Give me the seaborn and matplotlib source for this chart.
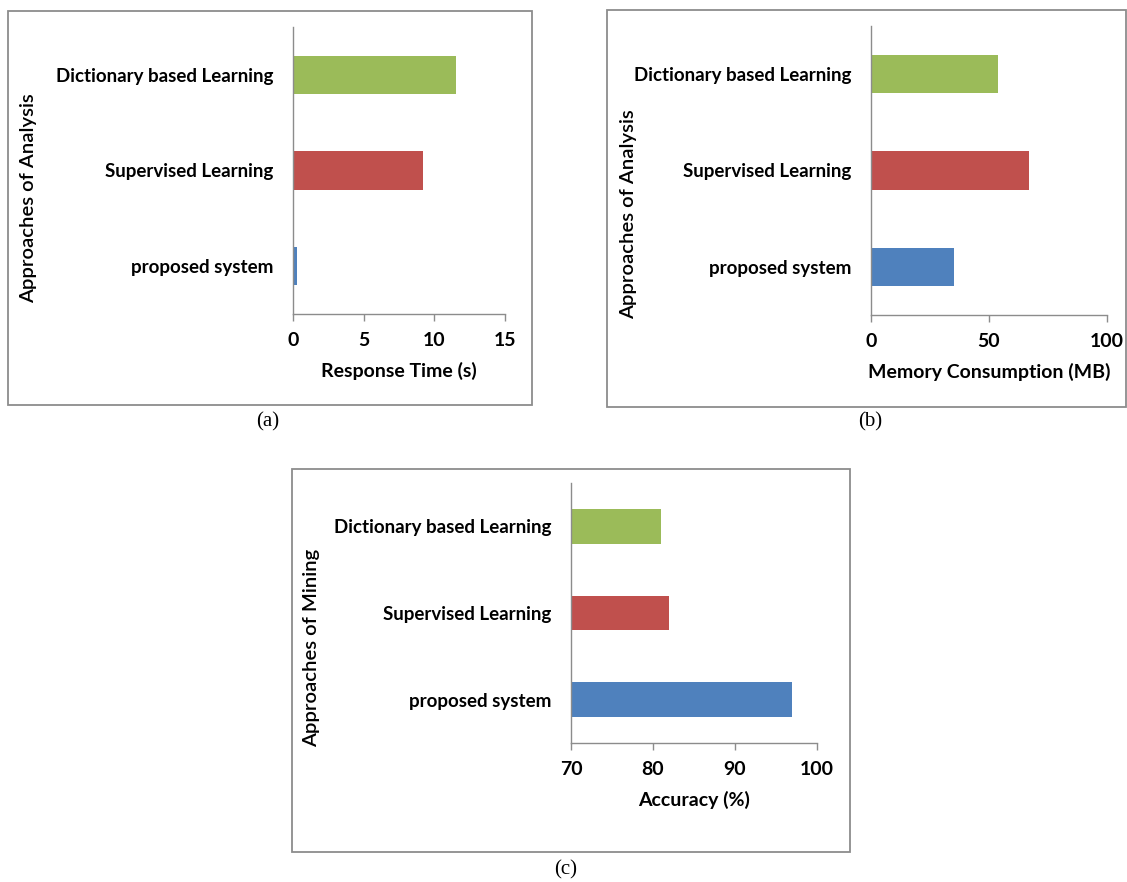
import matplotlib
matplotlib.use("Agg")
import matplotlib.pyplot as plt
import seaborn as sns
import pandas as pd
from matplotlib.patches import Rectangle

# ---- data ----
categories = ["Dictionary based Learning", "Supervised Learning", "proposed system"]
bar_colors = ["#9BBB59", "#C0504D", "#4F81BD"]
response_time = [11.5, 9.2, 0.25]
memory_mb = [54, 67, 35]
accuracy = [81, 82, 97]

sns.set_theme(style="white")
plt.rcParams['font.family'] = ['Lato', 'DejaVu Sans']
plt.rcParams['text.color'] = 'black'
plt.rcParams['axes.labelcolor'] = 'black'
plt.rcParams['xtick.color'] = 'black'
plt.rcParams['ytick.color'] = 'black'

W, H = 1127, 882
fig = plt.figure(figsize=(W / 100, H / 100), dpi=100)
fig.patch.set_facecolor("white")

GRAY = "#8c8c8c"
CAT_FS = 13.5
TICK_FS = 14
XLAB_FS = 14
YLAB_FS = 14.6


def px_axes(left, top, right, bottom):
    return fig.add_axes([left / W, 1 - bottom / H, (right - left) / W, (bottom - top) / H])


def frame(left, top, right, bottom):
    fig.patches.append(Rectangle((left / W, 1 - bottom / H), (right - left) / W, (bottom - top) / H,
                                 transform=fig.transFigure, fill=False, edgecolor=GRAY, linewidth=1.3))


def panel(box, frame_box, values, xlim, xticks, xlabel, ylabel, ylab_px):
    left, top, right, bottom = box
    ax = px_axes(*box)
    df = pd.DataFrame({"cat": categories, "val": values})
    sns.barplot(data=df, y="cat", x="val", hue="cat", order=categories, hue_order=categories,
                palette=bar_colors, saturation=1, width=0.4, orient="h", legend=False, ax=ax,
                edgecolor="none", linewidth=0)
    ax.set_xlim(*xlim)
    ax.set_ylim(2.5, -0.5)
    ax.set_xticks(xticks)
    ax.set_xticklabels([str(t) for t in xticks], fontsize=TICK_FS, fontweight="bold")
    ax.set_yticks(range(len(categories)))
    ax.set_yticklabels(categories, fontsize=CAT_FS, fontweight="bold")
    for s in ["top", "right"]:
        ax.spines[s].set_visible(False)
    for s in ["left", "bottom"]:
        ax.spines[s].set_color(GRAY)
        ax.spines[s].set_linewidth(1.0)
    ax.tick_params(axis="x", direction="out", length=5, width=1.0, color=GRAY, pad=8, bottom=True)
    ax.tick_params(axis="y", length=0, pad=14)
    ax.set_xlabel(xlabel, fontsize=XLAB_FS, fontweight="bold", labelpad=9)
    ax.set_ylabel(ylabel, fontsize=YLAB_FS, fontweight="semibold")
    lx, ly = ylab_px
    ax.yaxis.set_label_coords((lx - left) / (right - left), (bottom - ly) / (bottom - top))
    frame(*frame_box)
    return ax


panel((293, 27, 505, 314), (8, 11, 532, 405), response_time, (0, 15), [0, 5, 10, 15],
      "Response Time (s)", "Approaches of Analysis", (37, 198))
panel((871, 26, 1107, 315), (607, 10, 1126, 407), memory_mb, (0, 100), [0, 50, 100],
      "Memory Consumption (MB)", "Approaches of Analysis", (637, 214))
panel((571, 483, 817, 743), (292, 469, 850, 852), accuracy, (70, 100), [70, 80, 90, 100],
      "Accuracy (%)", "Approaches of Mining", (320, 648))

for txt, x, y in [("(a)", 268, 422), ("(b)", 870, 422), ("(c)", 566, 870)]:
    fig.text(x / W, 1 - y / H, txt, ha="center", va="center", fontsize=15,
             family="Liberation Serif", fontweight="normal", color="black")

fig.savefig("out.png", dpi=100, facecolor="white")
